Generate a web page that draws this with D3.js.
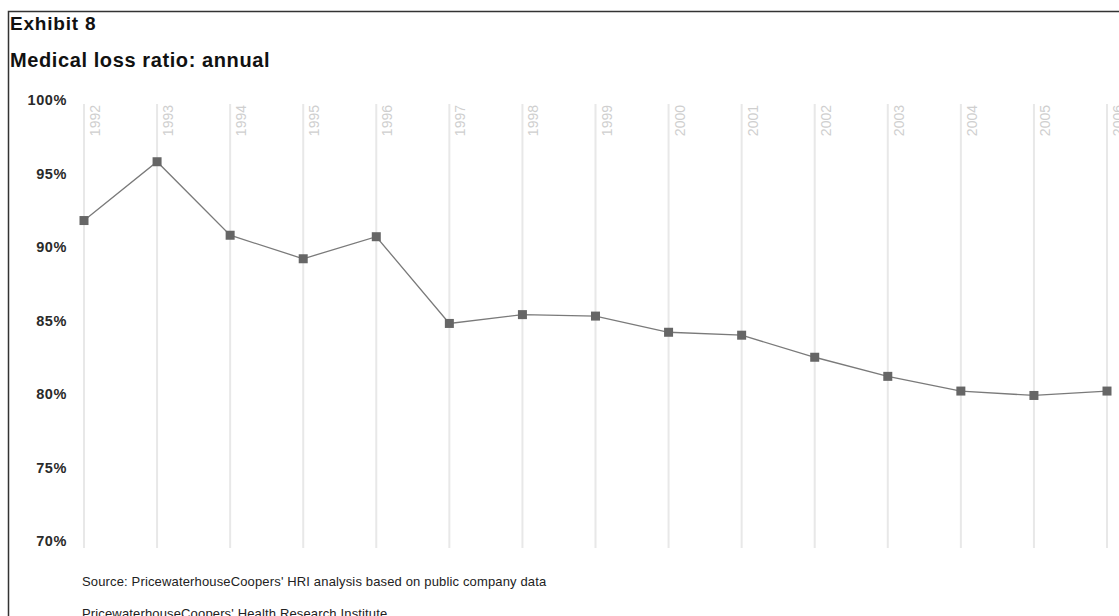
<!DOCTYPE html>
<html>
<head>
<meta charset="utf-8">
<script src="https://cdn.jsdelivr.net/npm/d3@7"></script>
<style>
  html, body { margin: 0; padding: 0; background: #fff; overflow: hidden; }
  svg { display: block; font-family: "Liberation Sans", Arial, sans-serif; }
</style>
</head>
<body>
<svg id="chart" width="1119" height="616"></svg>
<script>
const years = [1992, 1993, 1994, 1995, 1996, 1997, 1998, 1999, 2000, 2001, 2002, 2003, 2004, 2005, 2006];
const mlr = [91.8, 95.8, 90.8, 89.2, 90.7, 84.8, 85.4, 85.3, 84.2, 84.0, 82.5, 81.2, 80.2, 79.9, 80.2];
const yTicks = [70, 75, 80, 85, 90, 95, 100];
const exhibitLabel = "Exhibit 8";
const titleText = "Medical loss ratio: annual";
const sourceText = "Source: PricewaterhouseCoopers' HRI analysis based on public company data";
const creditText = "PricewaterhouseCoopers' Health Research Institute";

const svg = d3.select("#chart");

// frame
svg.append("rect")
  .attr("x", 8.5).attr("y", 11.5)
  .attr("width", 1300).attr("height", 800)
  .attr("fill", "none").attr("stroke", "#333").attr("stroke-width", 1.5);

svg.append("text")
  .attr("x", 10).attr("y", 30)
  .attr("font-size", 19).attr("font-weight", "bold").attr("fill", "#111")
  .attr("letter-spacing", 0.8)
  .text(exhibitLabel);

svg.append("text")
  .attr("x", 10).attr("y", 67)
  .attr("font-size", 20).attr("font-weight", "bold").attr("fill", "#111")
  .attr("letter-spacing", 0.6)
  .text(titleText);

const x = d3.scalePoint().domain(years).range([84, 1107]);
const y = d3.scaleLinear().domain([70, 100]).range([541, 100]);

// vertical gridlines
svg.append("g").selectAll("line")
  .data(years).join("line")
  .attr("x1", d => x(d)).attr("x2", d => x(d))
  .attr("y1", 104).attr("y2", 548)
  .attr("stroke", "#e8e8e8").attr("stroke-width", 2);

// year labels (rotated)
svg.append("g").selectAll("text")
  .data(years).join("text")
  .attr("transform", d => `translate(${x(d) + 16},105) rotate(-90)`)
  .attr("text-anchor", "end")
  .attr("font-size", 14)
  .attr("fill", "#cfcfcf")
  .text(d => d);

// y axis
const yAxis = d3.axisLeft(y).tickValues(yTicks).tickFormat(d => d + "%").tickSize(0).tickPadding(0);
const gy = svg.append("g").attr("transform", "translate(67,0)").call(yAxis);
gy.select(".domain").remove();
gy.selectAll("text")
  .attr("font-family", "'Liberation Sans', Arial, sans-serif")
  .attr("font-size", 14.5)
  .attr("font-weight", "bold")
  .attr("letter-spacing", 0.6)
  .attr("fill", "#2a2a2a");

// line
const line = d3.line().x((d, i) => x(years[i])).y(d => y(d));
svg.append("path")
  .datum(mlr)
  .attr("d", line)
  .attr("fill", "none")
  .attr("stroke", "#7a7a7a")
  .attr("stroke-width", 1.3);

// markers
const s = 9;
svg.append("g").selectAll("rect")
  .data(mlr).join("rect")
  .attr("x", (d, i) => x(years[i]) - s / 2)
  .attr("y", d => y(d) - s / 2)
  .attr("width", s).attr("height", s)
  .attr("fill", "#666");

// notes
svg.append("text")
  .attr("x", 82).attr("y", 586)
  .attr("font-size", 13).attr("fill", "#222")
  .attr("letter-spacing", 0.15)
  .text(sourceText);

svg.append("text")
  .attr("x", 82).attr("y", 618)
  .attr("font-size", 13).attr("fill", "#222")
  .attr("letter-spacing", 0.15)
  .text(creditText);
</script>
</body>
</html>
